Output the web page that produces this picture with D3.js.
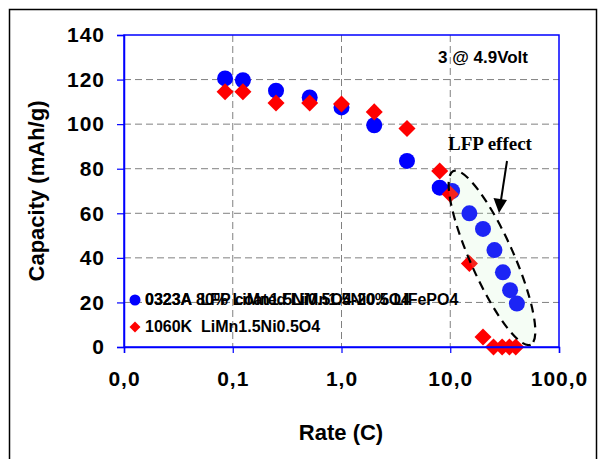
<!DOCTYPE html>
<html>
<head>
<meta charset="utf-8">
<script src="https://cdn.jsdelivr.net/npm/d3@7"></script>
<style>
  html, body { margin: 0; padding: 0; background: #fff; }
  svg { display: block; }
  text { white-space: pre; }
</style>
</head>
<body>
<svg id="chart" width="599" height="459"></svg>
<script>
// Discharge capacity vs. C-rate at 4.9 V
const blueRate = [0.085, 0.124, 0.25, 0.51, 1.0, 2.0, 4.0, 8.0, 10.4, 15, 20, 25.5, 30.5, 35.5, 41];
const blueCap  = [120.5, 119.7, 115, 112, 107.5, 99.5, 83.5, 71.5, 70, 60, 53, 43.5, 33.5, 25.5, 19.5];
const redRate  = [0.085, 0.124, 0.25, 0.51, 1.0, 2.0, 4.0, 8.0, 10.0, 15, 20, 25, 30, 35, 40];
const redCap   = [114.5, 114.5, 109.5, 109.5, 109, 105.5, 98, 79, 68.5, 37.5, 4.5, 0, 0, 0, 0];

const xTickValues = [0.01, 0.1, 1, 10, 100];
const xTickLabels = ["0,0", "0,1", "1,0", "10,0", "100,0"];
const yTickValues = [0, 20, 40, 60, 80, 100, 120, 140];

const blueName1 = "0323A 80% LiMn1.5Ni0.5O4-20% LiFePO4";
const blueName2 = "0323A  LFP coated LiMn1.5Ni0.5O4";
const redName   = "1060K  LiMn1.5Ni0.5O4";

const svg = d3.select("#chart");
const pLeft = 124, pRight = 559, pTop = 35, pBottom = 347;

const x = d3.scaleLog().domain([0.01, 100]).range([pLeft, pRight]);
const y = d3.scaleLinear().domain([0, 140]).range([pBottom, pTop]);

// outer frame
svg.append("rect")
  .attr("x", 9.5).attr("y", 9.5).attr("width", 587).attr("height", 470)
  .attr("fill", "none").attr("stroke", "#000").attr("stroke-width", 1.5);

// grid
const grid = svg.append("g").attr("stroke", "#808080").attr("stroke-width", 1)
  .attr("stroke-dasharray", "7,4");
grid.selectAll("line.h").data(yTickValues.filter(v => v > 0 && v < 140)).join("line")
  .attr("class", "h")
  .attr("x1", pLeft).attr("x2", pRight)
  .attr("y1", d => y(d)).attr("y2", d => y(d));
grid.selectAll("line.v").data(xTickValues.filter(v => v > 0.01 && v < 100)).join("line")
  .attr("class", "v")
  .attr("y1", pTop).attr("y2", pBottom)
  .attr("x1", d => x(d)).attr("x2", d => x(d));

// annotation text at top right
svg.append("text")
  .attr("x", 483).attr("y", 63).attr("text-anchor", "middle")
  .attr("font-family", "Liberation Sans, Arial, sans-serif")
  .attr("font-weight", "bold").attr("font-size", 17)
  .text("3 @ 4.9Volt");

// series
const blue = blueRate.map((r, i) => ({ r, c: blueCap[i] }));
const red = redRate.map((r, i) => ({ r, c: redCap[i] }));

svg.append("g").selectAll("circle").data(blue).join("circle")
  .attr("cx", d => x(d.r)).attr("cy", d => y(d.c)).attr("r", 8)
  .attr("fill", "#0000ff");

svg.append("g").selectAll("path").data(red).join("path")
  .attr("transform", d => `translate(${x(d.r)},${y(d.c)}) rotate(45)`)
  .attr("d", d3.symbol().type(d3.symbolSquare).size(145))
  .attr("fill", "#ff0000");

// LFP effect ellipse and arrow
const ecx = x(24.2), ecy = y(40);
svg.append("ellipse")
  .attr("cx", ecx).attr("cy", ecy).attr("rx", 95).attr("ry", 21.5)
  .attr("transform", `rotate(66, ${ecx}, ${ecy})`)
  .attr("fill", "rgb(190,240,190)").attr("fill-opacity", 0.15)
  .attr("stroke", "#000").attr("stroke-width", 2.2).attr("stroke-dasharray", "9,6");

svg.append("line")
  .attr("x1", 507).attr("y1", 161).attr("x2", 501).attr("y2", 200)
  .attr("stroke", "#000").attr("stroke-width", 2);
svg.append("path")
  .attr("d", "M499,213 L493.5,198 L507,200 Z")
  .attr("fill", "#000");

svg.append("text")
  .attr("x", 490).attr("y", 150).attr("text-anchor", "middle")
  .attr("font-family", "Liberation Serif, Times New Roman, serif")
  .attr("font-weight", "bold").attr("font-size", 19)
  .text("LFP effect");

// plot border
svg.append("rect")
  .attr("x", pLeft).attr("y", pTop).attr("width", pRight - pLeft).attr("height", pBottom - pTop)
  .attr("fill", "none").attr("stroke", "#0000ff").attr("stroke-width", 1.5);

// axes
const xAxis = d3.axisBottom(x).tickValues(xTickValues)
  .tickFormat((d, i) => xTickLabels[i]).tickSize(6).tickPadding(18);
const gx = svg.append("g").attr("transform", `translate(0,${pBottom})`).call(xAxis);
gx.select(".domain").attr("stroke", "#0000ff").attr("stroke-width", 1.5);
gx.selectAll(".tick line").attr("stroke", "#0000ff").attr("stroke-width", 1.2);
gx.selectAll(".tick text")
  .attr("font-family", "Liberation Sans, Arial, sans-serif")
  .attr("font-weight", "bold").attr("font-size", 21).attr("fill", "#000")
  .attr("letter-spacing", 1);

const yAxis = d3.axisLeft(y).tickValues(yTickValues).tickSize(7).tickPadding(12);
const gy = svg.append("g").attr("transform", `translate(${pLeft},0)`).call(yAxis);
gy.select(".domain").attr("stroke", "#0000ff").attr("stroke-width", 1.5);
gy.selectAll(".tick line").attr("stroke", "#0000ff").attr("stroke-width", 1.2);
gy.selectAll(".tick text")
  .attr("font-family", "Liberation Sans, Arial, sans-serif")
  .attr("font-weight", "bold").attr("font-size", 21).attr("fill", "#000")
  .attr("letter-spacing", 1);

// axis titles
svg.append("text")
  .attr("x", 341).attr("y", 440).attr("text-anchor", "middle")
  .attr("font-family", "Liberation Sans, Arial, sans-serif")
  .attr("font-weight", "bold").attr("font-size", 22)
  .text("Rate (C)");
svg.append("text")
  .attr("transform", `translate(44,${(pTop + pBottom) / 2}) rotate(-90)`)
  .attr("text-anchor", "middle")
  .attr("font-family", "Liberation Sans, Arial, sans-serif")
  .attr("font-weight", "bold").attr("font-size", 22)
  .text("Capacity (mAh/g)");

// legend (the two blue entries share one line)
const lg = svg.append("g")
  .attr("font-family", "Liberation Sans, Arial, sans-serif")
  .attr("font-size", 16).attr("font-weight", "bold");
lg.append("circle").attr("cx", 135).attr("cy", 300).attr("r", 5.5).attr("fill", "#0000ff");
lg.append("text").attr("x", 145).attr("y", 305).text(blueName1);
lg.append("text").attr("x", 145).attr("y", 305).text(blueName2);
lg.append("path").attr("transform", "translate(135,327) rotate(45)")
  .attr("d", d3.symbol().type(d3.symbolSquare).size(60)).attr("fill", "#ff0000");
lg.append("text").attr("x", 145).attr("y", 332).text(redName);
</script>
</body>
</html>
